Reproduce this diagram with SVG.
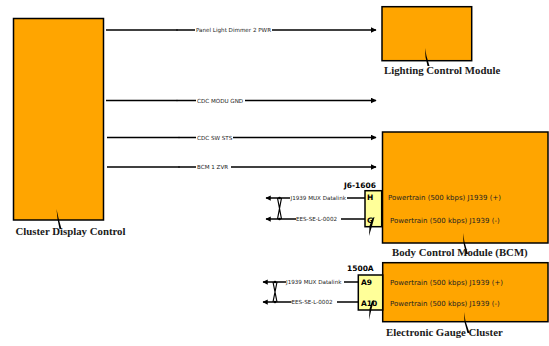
<svg xmlns="http://www.w3.org/2000/svg" width="549" height="346" viewBox="0 0 549 346">
<defs>
<marker id="arr" viewBox="0 0 10 10" refX="9" refY="5" markerWidth="4" markerHeight="4" orient="auto" markerUnits="strokeWidth">
<path d="M0,0 L10,5 L0,10 z" fill="#000"/>
</marker>
<marker id="arrL" viewBox="0 0 10 10" refX="9" refY="5" markerWidth="3.5" markerHeight="3.5" orient="auto" markerUnits="strokeWidth">
<path d="M0,0 L10,5 L0,10 z" fill="#000"/>
</marker>
</defs>
<style>
.mod{fill:#FFA500;stroke:#000;stroke-width:1.5}
.con{fill:#FFFF99;stroke:#000;stroke-width:1.5}
.w{stroke:#000;stroke-width:1.5;fill:none}
.tw{stroke:#000;stroke-width:1.2;fill:none}
.lbl{font-family:"Liberation Serif","Times New Roman",serif;font-weight:bold;font-size:10.8px;fill:#1a1a1a}
.sig{font-family:"DejaVu Sans",Verdana,sans-serif;font-size:5.6px;fill:#222}
.pt{font-family:"DejaVu Sans",Verdana,sans-serif;font-size:7px;fill:#222}
.pin{font-family:"DejaVu Sans",Verdana,sans-serif;font-weight:bold;font-size:7.5px;fill:#000}
.ldr{fill:#000}
</style>
<rect width="549" height="346" fill="#fff"/>

<g id="connectors">
<path class="w" d="M106,30 H195"/><path class="w" d="M272,30 H376" marker-end="url(#arr)"/>
<path class="w" d="M106,100.5 H196"/><path class="w" d="M245,100.5 H376" marker-end="url(#arr)"/>
<path class="w" d="M107,137.5 H196"/><path class="w" d="M233,137.5 H376" marker-end="url(#arr)"/>
<path class="w" d="M107,167 H196"/><path class="w" d="M231,167 H376" marker-end="url(#arr)"/>
<circle cx="177" cy="30" r="0.8"/><circle cx="177" cy="100.5" r="0.8"/><circle cx="179" cy="137.5" r="0.8"/><circle cx="179" cy="167" r="0.8"/>
<text class="sig" x="196" y="32">Panel Light Dimmer 2 PWR</text>
<text class="sig" x="197" y="102.5">CDC MODU GND</text>
<text class="sig" x="197" y="139.5">CDC SW STS</text>
<text class="sig" x="197" y="169">BCM 1 ZVR</text>

<path class="w" d="M290,198 H266" marker-end="url(#arrL)"/>
<path class="w" d="M347,198 H365"/>
<path class="w" d="M296,219 H266" marker-end="url(#arrL)"/>
<path class="w" d="M341,219 H365"/>
<path class="tw" d="M277.5,198 L281.5,219 M281.5,198 L277.5,219"/>
<circle cx="279.5" cy="198" r="1.3"/><circle cx="279.5" cy="219" r="1.3"/>
<text class="sig" x="290.5" y="200">J1939 MUX Datalink</text>
<text class="sig" x="296" y="221">EES-SE-L-0002</text>

<path class="w" d="M286,282 H263" marker-end="url(#arrL)"/>
<path class="w" d="M344,282 H358"/>
<path class="w" d="M291.5,302 H263" marker-end="url(#arrL)"/>
<path class="w" d="M337,302 H358"/>
<path class="tw" d="M273,282 L277,302 M277,282 L273,302"/>
<circle cx="275" cy="282" r="1.3"/><circle cx="275" cy="302" r="1.3"/>
<text class="sig" x="286" y="284">J1939 MUX Datalink</text>
<text class="sig" x="291.5" y="304">EES-SE-L-0002</text>
</g>

<g id="cluster-display-control">
<rect class="mod" x="13.5" y="18.5" width="90" height="201.5"/>
<polygon class="ldr" points="56.5,209 58.5,218 61.5,229 59.5,229 57.5,219"/>
<text class="lbl" x="15.5" y="235">Cluster Display Control</text>
</g>

<g id="lighting-control-module">
<rect class="mod" x="382" y="6.7" width="89.7" height="54"/>
<polygon class="ldr" points="425,48 426.5,56 429.5,66 427.5,66 425.5,57"/>
<text class="lbl" x="384" y="74">Lighting Control Module</text>
</g>

<g id="body-control-module">
<rect class="mod" x="382.5" y="132" width="165.5" height="111"/>
<text class="pt" x="388" y="199.5">Powertrain (500 kbps) J1939 (+)</text>
<text class="pt" x="390" y="222.5">Powertrain (500 kbps) J1939 (-)</text>
<polygon class="ldr" points="463,233 464.5,242 468,254 466,254 463.5,243"/>
<text class="lbl" x="392" y="256">Body Control Module (BCM)</text>
</g>

<g id="connector-j6-1606">
<rect class="con" x="365" y="190.7" width="16.7" height="36"/>
<text class="pin" x="344" y="188">J6-1606</text>
<text class="pin" x="367" y="200">H</text>
<text class="pin" x="367" y="223">G</text>
<polygon class="ldr" points="374.5,217 372,226 369,236 369.5,226 372.5,218"/>
</g>

<g id="electronic-gauge-cluster">
<rect class="mod" x="382.7" y="262.7" width="165.3" height="59"/>
<text class="pt" x="390" y="284.5">Powertrain (500 kbps) J1939 (+)</text>
<text class="pt" x="390" y="306">Powertrain (500 kbps) J1939 (-)</text>
<polygon class="ldr" points="464,312 465.5,321 469.5,333 467.5,333 464.5,322"/>
<text class="lbl" x="386" y="336">Electronic Gauge Cluster</text>
</g>

<g id="connector-1500a">
<rect class="con" x="358.3" y="275" width="24.4" height="35"/>
<text class="pin" x="347" y="271">1500A</text>
<text class="pin" x="361" y="284.5">A9</text>
<text class="pin" x="361" y="306">A10</text>
<polygon class="ldr" points="374,300 371.5,309 369,320 369.5,309 372,301"/>
</g>
</svg>
